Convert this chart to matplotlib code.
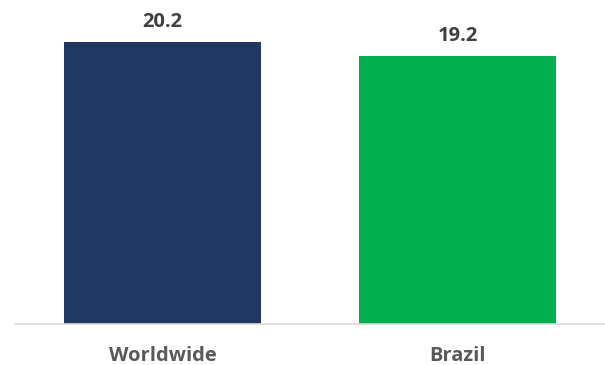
import matplotlib.pyplot as plt

regions = ["Worldwide", "Brazil"]
values = [20.2, 19.2]
bar_colors = ["#203864", "#00B050"]

plt.rcParams['font.family'] = ['Open Sans', 'DejaVu Sans']

fig = plt.figure(figsize=(6.05, 3.65), dpi=100)
ax = fig.add_axes([15 / 605, 41 / 365, 590 / 605, 307 / 365])

x = range(len(regions))
bars = ax.bar(x, values, width=0.667, color=bar_colors, zorder=2)

for b, v in zip(bars, values):
    ax.text(b.get_x() + b.get_width() / 2, v + 0.7, f"{v:.1f}",
            ha='center', va='bottom', fontsize=14.5, fontweight='bold',
            color='#404040')

ax.set_xlim(-0.5, 1.5)
ax.set_ylim(0, 22)
ax.set_xticks(list(x))
ax.set_xticklabels(regions, fontsize=14.5, fontweight='bold', color='#595959')
ax.tick_params(axis='x', length=0, pad=15.5)
ax.set_yticks([])

for side in ['top', 'right', 'left']:
    ax.spines[side].set_visible(False)
ax.spines['bottom'].set_color('#D9D9D9')
ax.spines['bottom'].set_linewidth(1.2)
ax.spines['bottom'].set_zorder(3)

fig.savefig('out.png', dpi=100)
